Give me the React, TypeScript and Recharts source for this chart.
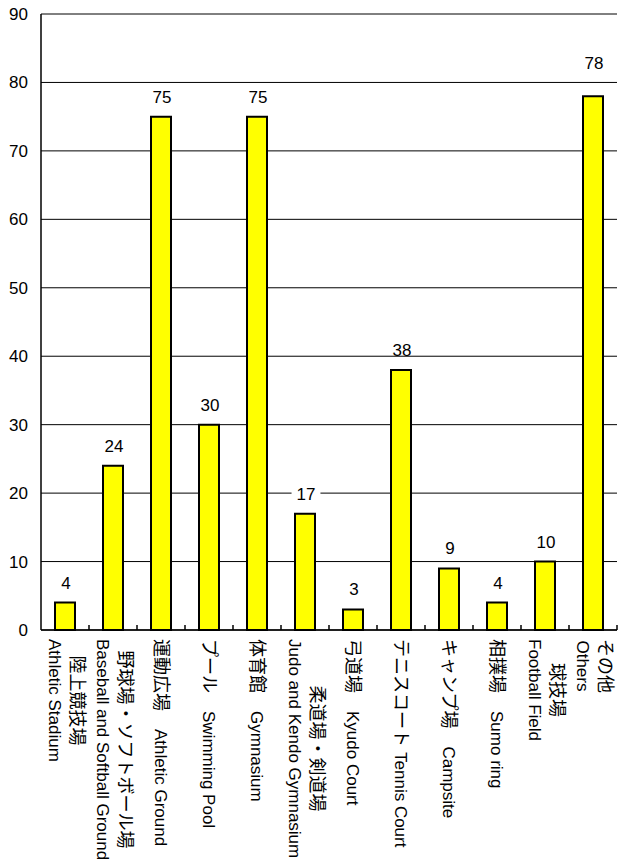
import { BarChart, Bar, XAxis, YAxis, CartesianGrid, LabelList } from 'recharts';

// facility names (JP / EN) and counts
const facilitiesJa = ['陸上競技場', '野球場・ソフトボール場', '運動広場', 'プール', '体育館', '柔道場・剣道場', '弓道場', 'テニスコート', 'キャンプ場', '相撲場', '球技場', 'その他'];
const facilitiesEn = ['Athletic Stadium', 'Baseball and Softball Ground', 'Athletic Ground', 'Swimming Pool', 'Gymnasium', 'Judo and Kendo Gymnasium', 'Kyudo Court', 'Tennis Court', 'Campsite', 'Sumo ring', 'Football Field', 'Others'];
// null = JP and EN on two stacked lines, otherwise the joiner of one line
const labelJoiner: (string | null)[] = [null, null, '\u3000', '\u3000', '\u3000', null, '\u3000', ' ', '\u3000', '\u3000', null, null];
const counts = [4, 24, 75, 30, 75, 17, 3, 38, 9, 4, 10, 78];
const yTicks = [0, 10, 20, 30, 40, 50, 60, 70, 80, 90];

const data = facilitiesJa.map((ja, i) => ({ ja, en: facilitiesEn[i], count: counts[i] }));

const CHART_W = 618;
const CHART_H = 862;
const Y_AXIS_W = 41;
const TOP = 14;
const RIGHT = 1;
const X_AXIS_H = 232;
const AXIS_Y = CHART_H - X_AXIS_H;
const BAND = (CHART_W - Y_AXIS_W - RIGHT) / counts.length;
const FONT = '"Liberation Sans", "Noto Sans CJK JP", Arial, sans-serif';
const JA_SIZE = 18;
const EN_SIZE = 17;

const ctx = document.createElement('canvas').getContext('2d');
function textWidth(s: string, size: number) {
  if (!ctx) return s.length * size * 0.6;
  ctx.font = `${size}px ${FONT}`;
  return ctx.measureText(s).width;
}

function CategoryTick(props: any) {
  const { x, payload } = props;
  const i = payload.index;
  const ja = facilitiesJa[i];
  const en = facilitiesEn[i];
  const joiner = labelJoiner[i];
  const start = AXIS_Y + 9;
  const common = { fontFamily: FONT, fill: '#000', dominantBaseline: 'central' as const };
  let body;
  if (joiner !== null) {
    body = (
      <text transform={`translate(${x},${start}) rotate(90)`} {...common}>
        <tspan fontSize={JA_SIZE}>{ja + joiner}</tspan>
        <tspan fontSize={EN_SIZE}>{en}</tspan>
      </text>
    );
  } else {
    const w = Math.max(textWidth(ja, JA_SIZE), textWidth(en, EN_SIZE));
    body = (
      <>
        <text transform={`translate(${x + 12},${start}) rotate(90)`} x={w / 2} textAnchor="middle" fontSize={JA_SIZE} {...common}>{ja}</text>
        <text transform={`translate(${x - 11},${start}) rotate(90)`} x={w / 2} textAnchor="middle" fontSize={EN_SIZE} {...common}>{en}</text>
      </>
    );
  }
  return (
    <g>
      <line x1={x + BAND / 2} x2={x + BAND / 2} y1={AXIS_Y} y2={AXIS_Y - 5} stroke="#000" strokeWidth={1.5} />
      {body}
    </g>
  );
}

function ValueLabel(props: any) {
  const { x, y, width, value, index } = props;
  const cx = x + width / 2 + 1;
  // the last label sits above the 80 gridline in the original
  const base = y - 14 - (index === counts.length - 1 ? 13 : 0);
  const w = textWidth(String(value), 17) + 10;
  return (
    <g>
      <rect x={cx - w / 2} y={base - 14} width={w} height={13} fill="#fff" />
      <text x={cx} y={base} textAnchor="middle" fontSize={17} fontFamily={FONT} fill="#000">{value}</text>
    </g>
  );
}

export default function App() {
  return (
    <div style={{ position: 'absolute', left: 0, top: 0, width: CHART_W, height: CHART_H, background: '#fff' }}>
      <BarChart width={CHART_W} height={CHART_H} data={data} margin={{ top: TOP, right: RIGHT, left: 0, bottom: 0 }}>
        <CartesianGrid horizontal vertical={false} stroke="#000" strokeWidth={1} strokeOpacity={1} />
        <XAxis
          dataKey="ja"
          height={X_AXIS_H}
          interval={0}
          tickLine={false}
          axisLine={{ stroke: '#000', strokeWidth: 1.5 }}
          tick={<CategoryTick />}
        />
        <YAxis
          width={Y_AXIS_W}
          domain={[0, 90]}
          ticks={yTicks}
          tickLine={false}
          tickSize={6}
          tickMargin={7}
          axisLine={{ stroke: '#000', strokeWidth: 1.5 }}
          tick={{ fill: '#000', fontSize: 17, fontFamily: FONT }}
        />
        <Bar dataKey="count" fill="#ffff00" stroke="#000" strokeWidth={2} barSize={20} isAnimationActive={false}>
          <LabelList dataKey="count" content={<ValueLabel />} />
        </Bar>
      </BarChart>
    </div>
  );
}
